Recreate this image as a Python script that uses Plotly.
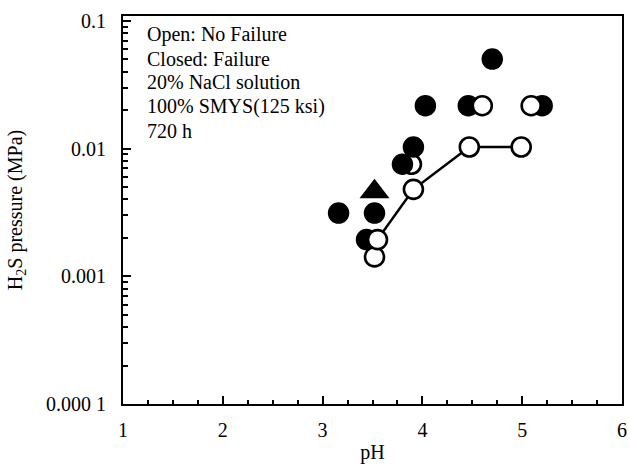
import plotly.graph_objects as go

# Data
open_ph = [3.52, 3.55, 3.91, 3.89, 4.47, 4.99, 4.60, 5.09]
open_p = [0.00142, 0.00194, 0.0048, 0.00755, 0.0103, 0.0103, 0.0217, 0.0217]

fail_back_ph = [3.16, 3.52, 3.44, 4.03, 4.46, 5.20, 4.70]
fail_back_p = [0.00313, 0.00313, 0.00194, 0.0217, 0.0217, 0.0217, 0.0503]

fail_front_ph = [3.80, 3.91]
fail_front_p = [0.00755, 0.0103]

tri_ph = [3.52]
tri_p = [0.0046]

boundary_ph = [3.55, 3.91, 4.47, 4.99]
boundary_p = [0.00194, 0.0048, 0.0103, 0.0103]

y_tickvals = [0.0001, 0.001, 0.01, 0.1]
y_ticktext = ["0.000 1", "0.001", "0.01", "0.1"]
x_tickvals = [1, 2, 3, 4, 5, 6]

note_lines = ["Open: No Failure", "Closed: Failure", "20% NaCl solution",
              "100% SMYS(125 ksi)", "720 h"]

FONT = "Liberation Serif"
fig = go.Figure()

fig.add_trace(go.Scatter(x=fail_back_ph, y=fail_back_p, mode="markers",
                         marker=dict(symbol="circle", size=20, color="black",
                                     line=dict(color="black", width=1.5)),
                         showlegend=False))
fig.add_trace(go.Scatter(x=boundary_ph, y=boundary_p, mode="lines",
                         line=dict(color="black", width=2.5), showlegend=False))
fig.add_trace(go.Scatter(x=open_ph, y=open_p, mode="markers",
                         marker=dict(symbol="circle", size=19, color="white",
                                     line=dict(color="black", width=2.6)),
                         showlegend=False))
fig.add_trace(go.Scatter(x=fail_front_ph, y=fail_front_p, mode="markers",
                         marker=dict(symbol="circle", size=20, color="black",
                                     line=dict(color="black", width=1.5)),
                         showlegend=False))
fig.add_trace(go.Scatter(x=tri_ph, y=tri_p, mode="markers",
                         marker=dict(symbol="triangle-up", size=26, color="black"),
                         showlegend=False))

# note lines: one annotation per line to control line spacing (24 px)
plot_top, plot_h = 16, 388
for i, line in enumerate(note_lines):
    py = 34.5 + 24 * i
    fig.add_annotation(text=line, xref="paper", yref="paper",
                       x=0.044, y=(plot_top + plot_h - py) / plot_h,
                       xanchor="left", yanchor="middle", align="left",
                       showarrow=False,
                       font=dict(family=FONT, size=20, color="black"))

fig.update_xaxes(range=[1, 6], tickvals=x_tickvals, ticks="inside", ticklen=8,
                 tickwidth=2, tickcolor="black", showline=True, linecolor="black",
                 linewidth=2, mirror=True, showgrid=False, zeroline=False,
                 automargin=False,
                 minor=dict(dtick=0.25, ticks="inside", ticklen=4, tickwidth=1.5,
                            tickcolor="black", showgrid=False),
                 ticklabelstandoff=7,
                 tickfont=dict(family=FONT, size=20, color="black"),
                 title=dict(text="pH", font=dict(family=FONT, size=20, color="black"),
                            standoff=9))
fig.update_yaxes(type="log", range=[-4, -0.961], tickvals=y_tickvals,
                 ticktext=y_ticktext, ticks="inside", ticklen=8, tickwidth=2,
                 tickcolor="black", showline=True, linecolor="black", linewidth=2,
                 mirror=True, showgrid=False, zeroline=False,
                 automargin=False,
                 minor=dict(dtick="D1", ticks="inside", ticklen=5, tickwidth=1.5,
                            tickcolor="black", showgrid=False),
                 ticklabelstandoff=11,
                 tickfont=dict(family=FONT, size=20, color="black"),
                 title=dict(text="H<sub>2</sub>S pressure (MPa)",
                            font=dict(family=FONT, size=20, color="black"),
                            standoff=18))

fig.update_layout(width=629, height=464, margin=dict(l=123, r=7, t=16, b=60),
                  plot_bgcolor="white", paper_bgcolor="white")

fig.write_html("out.html")
